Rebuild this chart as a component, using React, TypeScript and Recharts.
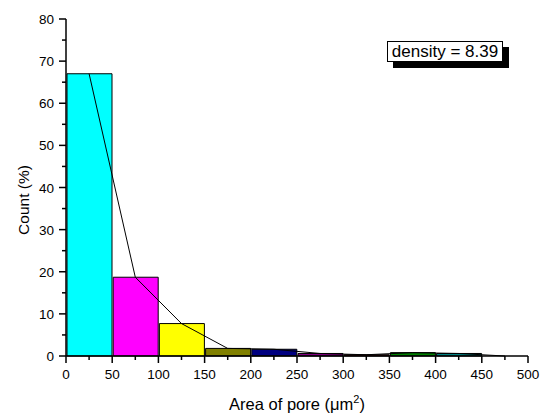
import React from 'react';
import { ComposedChart, Bar, Line, XAxis, YAxis, Cell } from 'recharts';

const binMids = [25, 75, 125, 175, 225, 275, 325, 375, 425, 475];
const counts = [67.0, 18.7, 7.7, 1.8, 1.6, 0.6, 0.3, 0.8, 0.6, 0];
const binColors = ['#00FFFF', '#FF00FF', '#FFFF00', '#808000', '#000080', '#800080', '#800000', '#008000', '#008080', '#000000'];
const xTicks = [0, 25, 50, 75, 100, 125, 150, 175, 200, 225, 250, 275, 300, 325, 350, 375, 400, 425, 450, 475, 500];
const yTicks = [0, 5, 10, 15, 20, 25, 30, 35, 40, 45, 50, 55, 60, 65, 70, 75, 80];
const densityText = 'density = 8.39';

const data = binMids.map((m, i) => ({ mid: m, count: counts[i] }));

const FONT = '"Liberation Sans", Arial, sans-serif';

const XTick = (props: any) => {
  const { x, y, payload } = props;
  const major = payload.value % 50 === 0;
  return (
    <g>
      <line x1={x} x2={x} y1={y} y2={y + (major ? 7 : 4)} stroke="#000" strokeWidth={1.5} />
      {major && (
        <text x={x} y={y + 23} textAnchor="middle" fontSize={13.5} fontFamily={FONT} fill="#000">
          {payload.value}
        </text>
      )}
    </g>
  );
};

const YTick = (props: any) => {
  const { x, y, payload } = props;
  const major = payload.value % 10 === 0;
  return (
    <g>
      <line x1={x} x2={x - (major ? 7 : 4)} y1={y} y2={y} stroke="#000" strokeWidth={1.5} />
      {major && (
        <text x={x - 12} y={y + 5} textAnchor="end" fontSize={13.5} fontFamily={FONT} fill="#000">
          {payload.value}
        </text>
      )}
    </g>
  );
};

const RTick = (props: any) => {
  const { x, y } = props;
  return <line x1={x} x2={x - 3} y1={y} y2={y} stroke="#000" strokeWidth={1} />;
};

const XLabel = (props: any) => {
  const vb = props.viewBox || {};
  const cx = vb.x + vb.width / 2;
  return (
    <text x={cx} y={410} textAnchor="middle" fontSize={16.5} fontFamily={FONT} fill="#000">
      Area of pore (
      <tspan>μm</tspan>
      <tspan dy={-7} fontSize={11}>2</tspan>
      <tspan dy={7}>)</tspan>
    </text>
  );
};

const YLabel = () => (
  <text
    x={29}
    y={200}
    transform="rotate(-90 29 200)"
    textAnchor="middle"
    fontSize={15.5}
    fontFamily={FONT}
    fill="#000"
  >
    Count (%)
  </text>
);

export default function App() {
  return (
    <div style={{ position: 'absolute', left: 0, top: 0, width: 544, height: 417, background: '#fff' }}>
      <ComposedChart
        width={544}
        height={417}
        data={data}
        margin={{ top: 19, right: 16, bottom: 21, left: 26 }}
      >
        <XAxis
          xAxisId="top"
          orientation="top"
          type="number"
          dataKey="mid"
          domain={[0, 500]}
          ticks={[]}
          tick={false}
          tickLine={false}
          axisLine={{ stroke: '#000', strokeWidth: 1.5 }}
          height={0}
        />
        <XAxis
          type="number"
          dataKey="mid"
          domain={[0, 500]}
          ticks={xTicks}
          interval={0}
          tick={<XTick />}
          tickLine={false}
          tickSize={0}
          tickMargin={0}
          axisLine={{ stroke: '#000', strokeWidth: 1.5 }}
          height={40}
          label={<XLabel />}
        />
        <YAxis
          type="number"
          domain={[0, 80]}
          ticks={yTicks}
          interval={0}
          tick={<YTick />}
          tickLine={false}
          tickSize={0}
          tickMargin={0}
          axisLine={{ stroke: '#000', strokeWidth: 1.5 }}
          width={40}
          label={<YLabel />}
        />
        <YAxis
          yAxisId="right"
          orientation="right"
          type="number"
          domain={[0, 80]}
          ticks={yTicks}
          interval={0}
          tick={<RTick />}
          tickLine={false}
          tickSize={0}
          tickMargin={0}
          axisLine={{ stroke: '#000', strokeWidth: 1.5 }}
          width={0}
        />
        <Bar dataKey="count" barSize={45} stroke="#000" strokeWidth={1} isAnimationActive={false}>
          {data.map((d, i) => (
            <Cell key={i} fill={binColors[i]} strokeOpacity={d.count > 0 ? 1 : 0} />
          ))}
        </Bar>
        <Line
          dataKey="count"
          type="linear"
          stroke="#000"
          strokeWidth={1}
          dot={false}
          isAnimationActive={false}
        />
      </ComposedChart>
      <div
        style={{
          position: 'absolute',
          left: 387,
          top: 41,
          width: 114,
          height: 19,
          border: '1px solid #000',
          background: '#fff',
          boxShadow: '6px 6px 0 #000',
          fontFamily: FONT,
          fontSize: 17,
          lineHeight: '19px',
          textAlign: 'center',
          color: '#000',
          whiteSpace: 'nowrap',
        }}
      >
        {densityText}
      </div>
    </div>
  );
}
